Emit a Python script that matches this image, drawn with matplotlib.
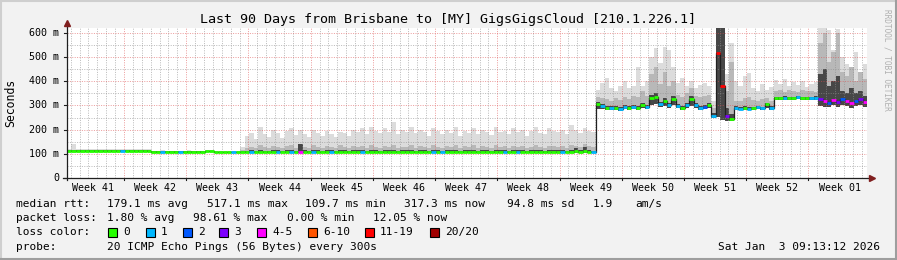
import numpy as np
import matplotlib
matplotlib.use("Agg")
import matplotlib.pyplot as plt
from matplotlib.patches import Rectangle

plt.rcParams['font.family'] = ['DejaVu Sans Mono']

# ---- data (one value per half day, 90 days) ----
# median rtt in ms
med = [113, 113, 113, 113, 113, 113, 113, 113, 113, 113, 113, 113, 113, 113, 113, 113, 113, 113, 113, 108,
       108, 108, 108, 108, 108, 108, 108, 108, 108, 108, 108, 111, 111, 107, 107, 107, 107, 107, 107, 107,
       108, 108, 107, 108, 109, 108, 107, 108, 108, 109, 108, 108, 107, 108, 108, 109, 108, 107, 108, 108,
       108, 109, 108, 108, 107, 108, 108, 108, 109, 108, 108, 107, 108, 108, 108, 109, 108, 108, 107, 108,
       108, 108, 109, 108, 107, 108, 108, 108, 108, 109, 108, 107, 108, 108, 108, 109, 108, 108, 107, 108,
       108, 108, 109, 108, 108, 107, 108, 108, 108, 109, 108, 108, 107, 108, 110, 108, 112, 108, 107, 305,
       296, 290, 288, 291, 286, 292, 290, 294, 290, 300, 292, 330, 335, 305, 318, 300, 325, 298, 290, 300,
       325, 300, 290, 295, 300, 258, 517, 380, 255, 242, 290, 287, 291, 286, 289, 292, 288, 305, 290, 331,
       330, 332, 331, 330, 333, 331, 330, 331, 332, 325, 318, 312, 322, 315, 328, 318, 310, 320, 325, 316]

# lost pings bucket: 0:"0" 1:"1" 2:"2" 3:"3" 4:"4-5" 5:"6-10" 6:"11-19" 7:"20/20"
loss = [0, 0, 0, 0, 0, 0, 0, 0, 0, 0, 0, 0, 1, 0, 0, 0, 0, 0, 0, 0,
        0, 1, 0, 0, 0, 1, 0, 0, 0, 0, 0, 0, 0, 0, 0, 0, 0, 1, 0, 0,
        0, 1, 0, 0, 0, 0, 0, 1, 0, 0, 1, 0, 4, 0, 0, 1, 0, 0, 0, 1,
        0, 0, 0, 0, 0, 0, 1, 0, 0, 0, 0, 0, 0, 0, 0, 0, 0, 0, 0, 0,
        0, 0, 1, 0, 1, 0, 0, 0, 0, 0, 0, 0, 0, 0, 0, 0, 0, 0, 1, 0,
        0, 1, 0, 0, 0, 0, 0, 0, 0, 0, 0, 1, 0, 0, 0, 0, 0, 0, 1, 0,
        1, 0, 1, 0, 1, 1, 0, 1, 0, 0, 1, 0, 0, 1, 0, 1, 0, 1, 0, 1,
        0, 1, 1, 2, 0, 1, 6, 6, 3, 0, 1, 1, 0, 1, 0, 1, 1, 0, 1, 0,
        0, 1, 0, 0, 1, 0, 0, 1, 1, 3, 4, 2, 4, 3, 2, 4, 4, 2, 3, 4]

# smoke: lowest ping, and three percentile tops (dark, mid, light)
smoke_lo = [110, 110, 110, 110, 110, 110, 110, 110, 110, 110, 110, 110, 110, 110, 110, 110, 110, 110, 110, 105,
            105, 105, 105, 105, 105, 105, 105, 105, 105, 105, 105, 108, 108, 104, 104, 104, 104, 104, 104, 104,
            104, 104, 104, 104, 105, 104, 104, 104, 104, 105, 104, 104, 104, 104, 104, 105, 104, 104, 104, 104,
            104, 105, 104, 104, 104, 104, 104, 104, 105, 104, 104, 104, 104, 104, 104, 105, 104, 104, 104, 104,
            104, 104, 105, 104, 104, 104, 104, 104, 104, 105, 104, 104, 104, 104, 104, 105, 104, 104, 104, 104,
            104, 104, 105, 104, 104, 104, 104, 104, 104, 105, 104, 104, 104, 104, 104, 104, 104, 104, 104, 285,
            286, 282, 280, 283, 279, 284, 282, 286, 282, 290, 285, 300, 305, 292, 298, 290, 300, 288, 282, 290,
            298, 290, 282, 287, 290, 250, 252, 240, 236, 235, 283, 280, 283, 280, 282, 284, 281, 290, 283, 324,
            323, 324, 324, 323, 325, 324, 323, 324, 324, 298, 295, 292, 300, 294, 302, 296, 291, 298, 300, 294]

smoke_dark = [115, 115, 115, 115, 115, 115, 115, 115, 115, 115, 115, 115, 115, 115, 115, 115, 115, 115, 115, 110,
              110, 110, 110, 110, 110, 110, 110, 110, 110, 110, 110, 113, 113, 109, 109, 109, 109, 109, 109, 110,
              113, 114, 112, 115, 113, 113, 116, 114, 112, 115, 116, 113, 140, 114, 112, 116, 114, 113, 115, 114,
              113, 116, 114, 113, 115, 114, 115, 112, 116, 114, 113, 115, 114, 116, 112, 115, 114, 116, 113, 115,
              114, 112, 116, 114, 113, 115, 114, 116, 112, 115, 114, 116, 113, 115, 114, 112, 116, 114, 115, 113,
              116, 114, 115, 112, 115, 116, 114, 113, 116, 115, 114, 115, 112, 116, 125, 114, 128, 116, 113, 313,
              304, 298, 296, 299, 294, 300, 298, 302, 298, 308, 300, 345, 350, 315, 330, 310, 340, 306, 298, 308,
              340, 308, 298, 303, 308, 268, 620, 620, 290, 265, 296, 293, 297, 292, 295, 298, 294, 312, 296, 336,
              335, 337, 336, 335, 338, 336, 335, 336, 337, 430, 450, 380, 400, 420, 360, 350, 370, 350, 360, 340]

smoke_mid = [116, 116, 116, 116, 116, 116, 116, 116, 116, 116, 116, 116, 116, 116, 116, 116, 116, 116, 116, 112,
             112, 112, 112, 112, 112, 112, 112, 112, 112, 112, 112, 115, 115, 112, 112, 112, 112, 112, 112, 116,
             124, 130, 122, 136, 127, 125, 134, 128, 123, 132, 138, 126, 140, 129, 124, 135, 130, 125, 133, 128,
             124, 136, 130, 126, 134, 127, 131, 123, 138, 129, 125, 133, 128, 136, 123, 130, 128, 137, 126, 132,
             129, 123, 135, 130, 125, 133, 128, 138, 123, 131, 127, 136, 125, 131, 129, 123, 135, 130, 131, 126,
             134, 129, 132, 123, 130, 137, 128, 125, 134, 131, 128, 132, 123, 136, 132, 128, 140, 132, 129, 335,
             330, 325, 320, 330, 322, 335, 328, 340, 335, 360, 340, 430, 460, 390, 440, 380, 400, 345, 335, 350,
             370, 340, 335, 340, 345, 290, 620, 620, 360, 480, 320, 318, 330, 335, 322, 320, 328, 330, 318, 358,
             365, 355, 362, 360, 356, 364, 358, 360, 355, 560, 600, 480, 520, 600, 440, 420, 460, 400, 440, 410]

smoke_hi = [118, 140, 118, 118, 120, 118, 118, 119, 118, 118, 118, 120, 118, 118, 118, 118, 119, 118, 118, 113,
            113, 114, 113, 113, 113, 113, 113, 114, 113, 113, 113, 116, 116, 113, 113, 113, 113, 113, 113, 130,
            175, 186, 160, 211, 180, 170, 200, 185, 165, 195, 205, 178, 200, 182, 168, 198, 188, 172, 195, 180,
            170, 192, 185, 175, 200, 190, 205, 180, 211, 195, 185, 205, 190, 233, 180, 200, 192, 210, 185, 198,
            190, 172, 205, 195, 180, 200, 188, 210, 175, 195, 185, 205, 180, 198, 190, 178, 210, 192, 195, 182,
            205, 190, 200, 175, 195, 210, 188, 182, 205, 195, 190, 198, 180, 219, 200, 188, 205, 195, 190, 364,
            393, 413, 372, 360, 380, 400, 370, 380, 460, 380, 400, 500, 537, 475, 541, 530, 460, 393, 413, 380,
            400, 370, 385, 393, 380, 320, 620, 620, 430, 560, 400, 380, 420, 434, 370, 360, 390, 365, 375, 405,
            390, 410, 380, 395, 385, 400, 375, 390, 395, 620, 620, 610, 530, 615, 500, 470, 450, 520, 430, 470]

loss_colors = ['#26ff00', '#00b8ff', '#0059ff', '#7e00ff', '#ff00ff', '#ff5500', '#ff0000', '#a00000']
loss_labels = ['0', '1', '2', '3', '4-5', '6-10', '11-19', '20/20']

week_labels = ['Week 41', 'Week 42', 'Week 43', 'Week 44', 'Week 45', 'Week 46', 'Week 47',
               'Week 48', 'Week 49', 'Week 50', 'Week 51', 'Week 52', 'Week 01']
first_week_start = 6.41   # day offset of first week boundary in the window
y_ticks = [0, 100, 200, 300, 400, 500, 600]
y_ticklabels = ['0', '100 m', '200 m', '300 m', '400 m', '500 m', '600 m']

# ---- figure ----
W, H = 897, 260
fig = plt.figure(figsize=(W / 100, H / 100), dpi=100, facecolor='#f2f2f2')

def fx(px):
    return px / W

def fy(py):
    return 1 - py / H

# 3d frame
fig.add_artist(plt.Line2D([fx(0.5), fx(0.5)], [0, 1], color='#cfcfcf', lw=1.5))
fig.add_artist(plt.Line2D([0, 1], [fy(0.5), fy(0.5)], color='#cfcfcf', lw=1.5))
fig.add_artist(plt.Line2D([fx(W - 1), fx(W - 1)], [0, 1], color='#9e9e9e', lw=1.5))
fig.add_artist(plt.Line2D([0, 1], [fy(H - 1), fy(H - 1)], color='#9e9e9e', lw=1.5))

ax = fig.add_axes([fx(67), fy(178), fx(800), 150 / H])
ax.set_facecolor('white')
ax.set_xlim(0, 90)
ax.set_ylim(0, 620)
for s in ax.spines.values():
    s.set_visible(False)
ax.set_xticks([])
ax.set_yticks([])

t = np.arange(len(med) + 1) * 0.5

def ext(a):
    return list(a) + [a[-1]]

# smoke
ax.fill_between(t, ext(smoke_lo), ext(smoke_hi), step='post', color='#dcdcdc', lw=0, zorder=1)
ax.fill_between(t, ext(smoke_lo), ext(smoke_mid), step='post', color='#b8b8b8', lw=0, zorder=1.1)
ax.fill_between(t, ext(smoke_lo), ext(smoke_dark), step='post', color='#474747', lw=0, zorder=1.2)

# grid
grid_kw = dict(lw=0.72, dashes=(1, 1.4), zorder=2)
day_lines = np.arange(first_week_start % 1, 90, 1.0)
week_lines = np.arange(first_week_start, 90, 7.0)
for d in day_lines:
    if min(abs(d - week_lines)) > 0.1:
        ax.axvline(d, color='#8f8f8f', alpha=0.6, **grid_kw)
for v in range(50, 620, 100):
    ax.axhline(v, color='#8f8f8f', alpha=0.6, **grid_kw)
for d in week_lines:
    ax.axvline(d, color='#de4f4f', alpha=0.55, **grid_kw)
for v in y_ticks[1:]:
    ax.axhline(v, color='#de4f4f', alpha=0.55, **grid_kw)

# median line: thin dark step, loss-coloured segments on top
ax.step(t, ext(med), where='post', color='#202020', lw=0.9, zorder=3)
ax.hlines(med, t[:-1], t[1:], colors=[loss_colors[c] for c in loss], lw=2.0, zorder=4)

# axes with arrows
ax.plot([-0.5, 90.4], [0, 0], color='#1f1f1f', lw=0.9, clip_on=False, zorder=5)
ax.plot([0, 0], [-8, 640], color='#1f1f1f', lw=0.9, clip_on=False, zorder=5)
ax.plot([90.6], [0], marker='>', ms=4.5, color='#801f1f', clip_on=False, zorder=6)
ax.plot([0], [642], marker='^', ms=4.5, color='#801f1f', clip_on=False, zorder=6)
for d in week_lines:
    ax.plot([d, d], [0, -10], color='#1f1f1f', lw=0.8, clip_on=False)
for v in y_ticks:
    ax.plot([0, -0.35], [v, v], color='#1f1f1f', lw=0.8, clip_on=False)

# tick labels
for v, lab in zip(y_ticks, y_ticklabels):
    ax.text(-0.85, v, lab, ha='right', va='center', fontsize=7.2, color='#000000')
for k, lab in enumerate(week_labels):
    ax.text(first_week_start - 3.5 + 7 * k, -20, lab, ha='center', va='top', fontsize=7.2)

# titles
fig.text(fx(448), fy(19), 'Last 90 Days from Brisbane to [MY] GigsGigsCloud [210.1.226.1]',
         ha='center', va='center', fontsize=9.6)
fig.text(fx(11), fy(103), 'Seconds', rotation=90, ha='center', va='center', fontsize=8.3)
fig.text(fx(887), fy(60), 'RRDTOOL / TOBI OETIKER', rotation=270, ha='center', va='center',
         fontsize=5.6, color='#b0b0b0')

# legend lines
fs = 8
row1 = [(16, 'median rtt:'), (107, '179.1 ms avg'), (207, '517.1 ms max'), (305, '109.7 ms min'),
        (404, '317.3 ms now'), (507, '94.8 ms sd'), (593, '1.9'), (635, 'am/s')]
row2 = [(16, 'packet loss:'), (107, '1.80 % avg'), (193, '98.61 % max'), (287, '0.00 % min'),
        (373, '12.05 % now')]
for x, s in row1:
    fig.text(fx(x), fy(204), s, ha='left', va='center', fontsize=fs)
for x, s in row2:
    fig.text(fx(x), fy(218), s, ha='left', va='center', fontsize=fs)
fig.text(fx(16), fy(232), 'loss color:', ha='left', va='center', fontsize=fs)
box_x = [108, 146, 183, 219, 257, 308, 365, 430]
for bx, c, lab in zip(box_x, loss_colors, loss_labels):
    fig.add_artist(Rectangle((fx(bx), fy(236.5)), fx(9), 9 / H, facecolor=c, edgecolor='black', lw=0.8))
    fig.text(fx(bx + 15), fy(232), lab, ha='left', va='center', fontsize=fs)
fig.text(fx(16), fy(247), 'probe:', ha='left', va='center', fontsize=fs)
fig.text(fx(107), fy(247), '20 ICMP Echo Pings (56 Bytes) every 300s', ha='left', va='center', fontsize=fs)
fig.text(fx(880), fy(247), 'Sat Jan  3 09:13:12 2026', ha='right', va='center', fontsize=fs)

fig.savefig('out.png', dpi=100, facecolor=fig.get_facecolor())
